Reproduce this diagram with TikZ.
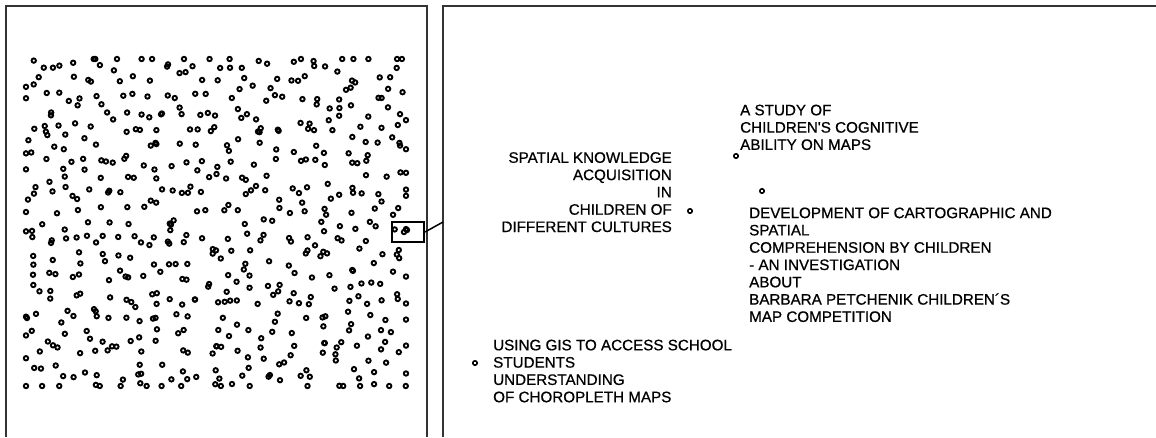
\documentclass[tikz,border=0pt]{standalone}
\usepackage{fontspec}
\setmainfont{Liberation Sans}
\newfontface\titlefont[FakeBold=0.7]{Liberation Sans}
\usepackage{tikz}
\usetikzlibrary{positioning}
\tikzset{
	framestyle/.style={line width=2pt, draw=black!80},
	dotstyle/.style={line width=1.9pt, draw=black},
	labeldot/.style={circle, draw=black, line width=1.6pt, inner sep=0pt, minimum size=4.4pt},
	titlenode/.style={inner sep=0pt, text=black, font=\titlefont\fontsize{15.2}{17.3}\selectfont},
	zoomrect/.style={rectangle, draw=black, line width=2pt, inner sep=0pt, minimum width=32pt, minimum height=20pt}
}

\begin{document}
\begin{tikzpicture}[x=1pt,y=-1pt]
		\useasboundingbox (0,0) rectangle (1156,437);
		
		%Frames
		\draw[framestyle] (6,437) -- (6,6) -- (427,6) -- (427,437);
		\draw[framestyle] (443,437) -- (443,6) -- (1160,6);
		
		%Overview of all documents
		\pgfmathsetseed{4217}
		\foreach \c in {0,...,25}{
			\foreach \r in {0,...,21}{
				\pgfmathsetmacro\px{max(26,min(406,26+\c*15.2+20*(rnd-0.5)))}
				\pgfmathsetmacro\py{max(59,min(386,59+\r*15.57+20*(rnd-0.5)))}
				\draw[dotstyle] (\px,\py) circle[radius=2.2pt];
			}
		}
		\draw[dotstyle] (404,232) circle[radius=2.2pt];
		\draw[dotstyle] (407,230) circle[radius=2.2pt];
		
		\node[zoomrect] at (408,232) (zoom) {};
		\coordinate (zoomend) at (443,222);
		
		%Detail view
		\node[labeldot] at (736,156) (d1) {};
		\node[labeldot] at (690,211) (d2) {};
		\node[labeldot] at (762,191) (d3) {};
		\node[labeldot] at (475,363) (d4) {};
		
		\node[titlenode, anchor=north west, align=left] at (740,104.5) (t1) {A STUDY OF\\CHILDREN'S COGNITIVE\\ABILITY ON MAPS};
		\node[titlenode, anchor=north east, align=right] at (672,152) (t2) {SPATIAL KNOWLEDGE\\ACQUISITION\\IN\\CHILDREN OF\\DIFFERENT CULTURES};
		\node[titlenode, anchor=north west, align=left] at (749,207.3) (t3) {DEVELOPMENT OF CARTOGRAPHIC AND\\SPATIAL\\COMPREHENSION BY CHILDREN\\- AN INVESTIGATION\\ABOUT\\BARBARA PETCHENIK CHILDREN´S\\MAP COMPETITION};
		\node[titlenode, anchor=north west, align=left] at (493,339.5) (t4) {USING GIS TO ACCESS SCHOOL\\STUDENTS\\UNDERSTANDING\\OF CHOROPLETH MAPS};
		
		%Lines
		\draw[line width=1.5pt] (zoom.east) -- (zoomend);
		
	\end{tikzpicture}
\end{document}
